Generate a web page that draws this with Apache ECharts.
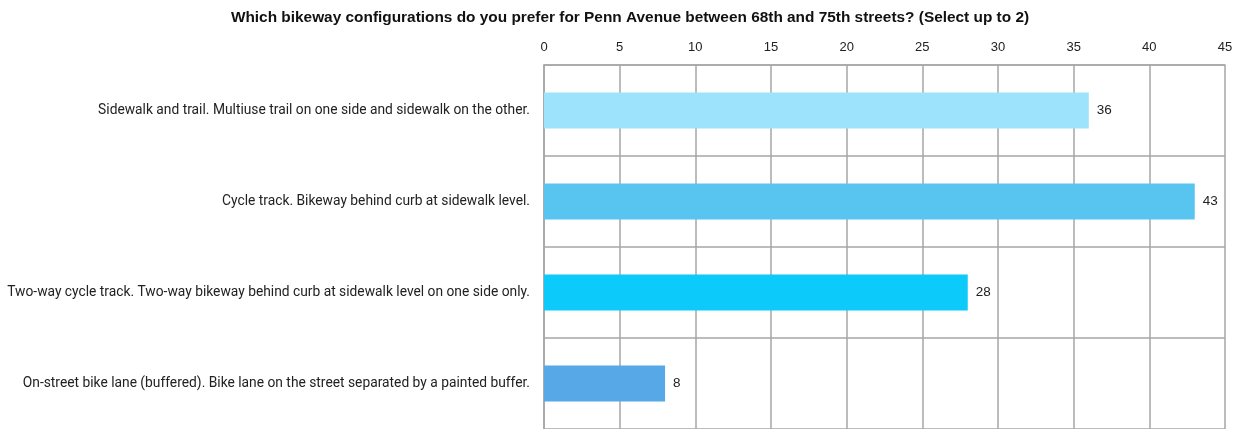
<!DOCTYPE html>
<html>
<head>
<meta charset="utf-8">
<script src="https://cdn.jsdelivr.net/npm/echarts@6/dist/echarts.min.js"></script>
<style>
  html, body { margin: 0; padding: 0; background: #ffffff; }
  #chart { width: 1249px; height: 429px; }
</style>
</head>
<body>
<div id="chart"></div>
<script>
// Survey answers, top to bottom
const categories = [
  'Sidewalk and trail. Multiuse trail on one side and sidewalk on the other.',
  'Cycle track. Bikeway behind curb at sidewalk level.',
  'Two-way cycle track. Two-way bikeway behind curb at sidewalk level on one side only.',
  'On-street bike lane (buffered). Bike lane on the street separated by a painted buffer.'
];
const responses = [36, 43, 28, 8];
const barColors = ['#9de3fc', '#57c5ef', '#0ccaf9', '#57a8e6'];
const titleText = 'Which bikeway configurations do you prefer for Penn Avenue between 68th and 75th streets? (Select up to 2)';

const gridColor = '#a6a6a6';

const chart = echarts.init(document.getElementById('chart'));
chart.setOption({
  animation: false,
  title: {
    text: titleText,
    left: 625,
    textAlign: 'center',
    top: 5,
    textStyle: {
      fontFamily: 'Liberation Sans, Arial, sans-serif',
      fontWeight: 'bold',
      fontSize: 15.4,
      color: '#111111'
    }
  },
  grid: { left: 544, right: 24, top: 65, bottom: -3, containLabel: false },
  xAxis: {
    type: 'value',
    position: 'top',
    min: 0,
    max: 45,
    interval: 5,
    axisLine: { show: true, lineStyle: { color: gridColor, width: 1.5 } },
    axisTick: { show: false },
    axisLabel: {
      margin: 11,
      fontFamily: 'Liberation Sans, Arial, sans-serif',
      fontSize: 13,
      color: '#222222'
    },
    splitLine: { show: true, lineStyle: { color: gridColor, width: 1.5 } }
  },
  yAxis: {
    type: 'category',
    inverse: true,
    data: categories,
    axisLine: { show: true, lineStyle: { color: gridColor, width: 1.5 } },
    axisTick: { show: false },
    axisLabel: {
      margin: 14,
      fontFamily: 'Roboto, sans-serif',
      fontSize: 13.8,
      color: '#222222'
    },
    splitLine: { show: true, lineStyle: { color: gridColor, width: 1.5 } }
  },
  series: [{
    type: 'bar',
    barWidth: 36,
    data: responses.map((v, i) => ({ value: v, itemStyle: { color: barColors[i] } })),
    label: {
      show: true,
      position: 'right',
      distance: 8,
      fontFamily: 'Liberation Sans, Arial, sans-serif',
      fontSize: 13.5,
      color: '#222222'
    }
  }]
});
</script>
</body>
</html>
